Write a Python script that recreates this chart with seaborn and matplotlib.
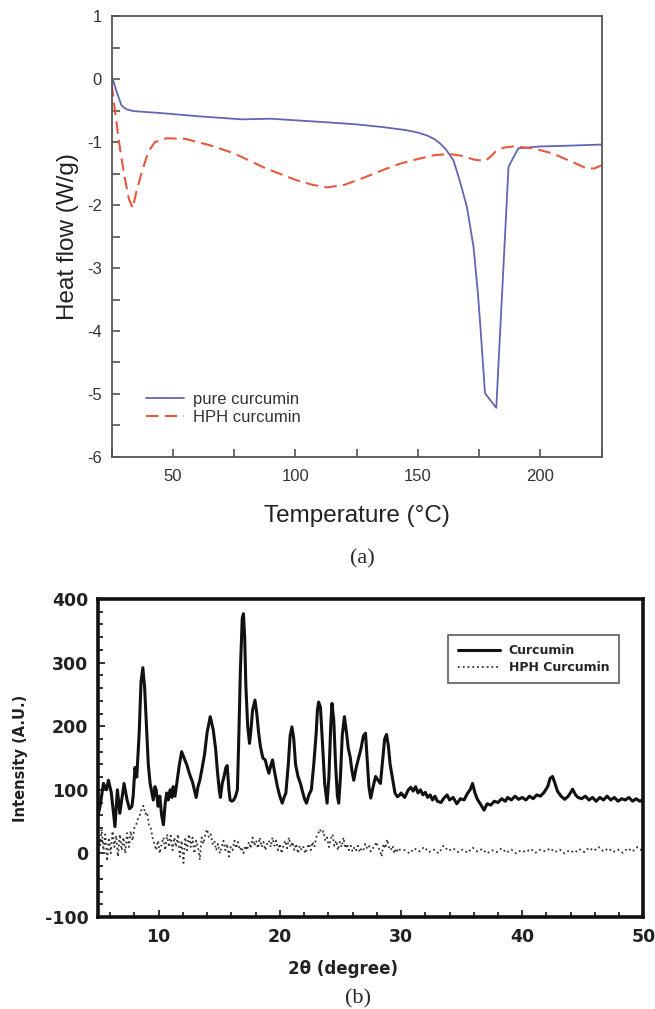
import numpy as np
import seaborn as sns
import matplotlib
matplotlib.use("Agg")
from matplotlib import pyplot as plt
from matplotlib.ticker import MultipleLocator

# (a) DSC curves
pure_T = [25, 27, 29, 31, 34, 45, 60, 78, 90, 102, 114, 125, 135, 145, 150, 154,
          157, 159, 161.5, 164.5, 167, 170, 172.7, 174.5, 175.6, 177.4, 182, 187,
          191, 200, 210, 225]
pure_Q = [0.05, -0.2, -0.42, -0.48, -0.51, -0.54, -0.59, -0.64, -0.63, -0.66, -0.69,
          -0.72, -0.76, -0.81, -0.85, -0.9, -0.96, -1.02, -1.12, -1.29, -1.6, -2.03,
          -2.66, -3.4, -3.98, -4.99, -5.22, -1.39, -1.1, -1.07, -1.06, -1.04]

hph_T = [25, 26, 28, 30, 32, 33.6, 35, 37.5, 40, 42.7, 47.5, 55, 65, 75, 88, 100,
         107, 113, 120, 129, 136, 143, 150, 156.5, 163, 168, 173, 177.5, 180, 182,
         185, 189, 197, 205, 212, 219, 222, 225]
hph_Q = [-0.08, -0.4, -1.0, -1.5, -1.9, -2.05, -1.8, -1.45, -1.15, -1.0, -0.94, -0.95,
         -1.05, -1.18, -1.42, -1.6, -1.68, -1.72, -1.68, -1.55, -1.44, -1.34, -1.27,
         -1.21, -1.19, -1.22, -1.28, -1.3, -1.22, -1.14, -1.09, -1.07, -1.1, -1.18,
         -1.3, -1.42, -1.42, -1.37]

# (b) XRD patterns
cur_2t = [5.0, 5.17, 5.45, 5.7, 5.86, 6.1, 6.4, 6.6, 6.8, 7.15, 7.4, 7.6, 7.8, 7.9,
          8.05, 8.2, 8.4, 8.55, 8.7, 8.85, 9.0, 9.15, 9.3, 9.45, 9.56, 9.7, 9.8, 9.96,
          10.1, 10.25, 10.4, 10.55, 10.67, 10.8, 10.95, 11.1, 11.2, 11.35, 11.5, 11.7,
          11.9, 12.1, 12.35, 12.55, 12.8, 12.95, 13.1, 13.25, 13.4, 13.6, 13.8, 14.0,
          14.26, 14.5, 14.7, 14.85, 15.0, 15.1, 15.25, 15.4, 15.55, 15.66, 15.8, 15.9,
          16.05, 16.2, 16.35, 16.5, 16.6, 16.75, 16.9, 17.0, 17.1, 17.2, 17.35, 17.5,
          17.6, 17.75, 17.95, 18.1, 18.25, 18.4, 18.6, 18.8, 18.95, 19.1, 19.25, 19.4,
          19.55, 19.8, 20.0, 20.2, 20.35, 20.5, 20.7, 20.85, 21.0, 21.15, 21.3, 21.5,
          21.7, 21.9, 22.05, 22.2, 22.4, 22.6, 22.8, 23.0, 23.1, 23.2, 23.35, 23.5,
          23.7, 23.9, 24.05, 24.2, 24.3, 24.45, 24.6, 24.75, 24.86, 25.0, 25.15, 25.33,
          25.5, 25.65, 25.8, 25.95, 26.1, 26.3, 26.5, 26.7, 26.9, 27.07, 27.2, 27.35,
          27.5, 27.7, 27.9, 28.1, 28.3, 28.5, 28.65, 28.8, 28.95, 29.1, 29.27, 29.5,
          29.7, 29.9, 30.0, 30.3, 30.6, 30.8, 31.0, 31.2, 31.4, 31.6, 31.8, 32.0, 32.2,
          32.4, 32.6, 32.8, 33.0, 33.3, 33.5, 33.8, 34.0, 34.3, 34.6, 34.9, 35.2, 35.5,
          35.7, 35.9, 36.1, 36.3, 36.6, 36.85, 37.1, 37.4, 37.7, 38.0, 38.3, 38.6, 38.8,
          39.1, 39.4, 39.7, 40.0, 40.3, 40.6, 40.9, 41.2, 41.5, 41.8, 42.1, 42.3, 42.5,
          42.7, 42.9, 43.2, 43.5, 43.8, 44.0, 44.15, 44.4, 44.6, 44.9, 45.2, 45.5, 45.8,
          46.1, 46.4, 46.7, 47.0, 47.3, 47.6, 47.9, 48.2, 48.5, 48.8, 49.1, 49.4, 49.7,
          50.0]
cur_int = [60, 74, 110, 100, 115, 95, 42, 100, 63, 110, 84, 70, 74, 90,
           135, 120, 190, 270, 292, 260, 199, 140, 110, 95, 84, 105, 100, 74,
           90, 60, 45, 80, 95, 84, 100, 88, 105, 90, 110, 138,
           160, 150, 138, 125, 112, 100, 88, 105, 115, 135, 157, 190,
           215, 195, 165, 130, 100, 88, 110, 121, 135, 138, 100, 84,
           82, 84, 90, 100, 170, 290, 370, 377, 340, 263, 200, 173,
           190, 225, 241, 220, 190, 168, 150, 147, 135, 126, 138, 147,
           130, 105, 90, 79, 88, 95, 140, 185, 199, 180, 140, 121,
           110, 95, 85, 79, 92, 100, 140, 189, 225, 238, 230, 180,
           110, 79, 120, 200, 236, 210, 140, 90, 79, 120, 185, 215,
           190, 165, 152, 130, 115, 135, 150, 165, 185, 189, 150, 105,
           87, 105, 121, 115, 110, 150, 180, 187, 170, 140, 121, 95,
           89, 92, 95, 88, 100, 104, 98, 105, 95, 100, 92, 96, 88,
           92, 84, 90, 82, 80, 86, 92, 84, 88, 78, 86, 84, 95,
           100, 110, 95, 85, 76, 68, 78, 76, 82, 80, 86, 82, 88,
           84, 90, 85, 88, 84, 90, 86, 92, 90, 96, 105, 118, 121,
           110, 98, 90, 85, 90, 96, 101, 92, 88, 86, 90, 84, 88,
           82, 88, 84, 90, 84, 88, 82, 86, 84, 88, 82, 86, 82,
           85]

hph_2t = [5.0, 5.15, 5.3, 5.45, 5.6, 5.75, 5.9, 6.05, 6.2, 6.35, 6.5, 6.65, 6.8,
          6.95, 7.1, 7.25, 7.4, 7.55, 7.7, 7.85, 8.0, 8.15, 8.3, 8.45, 8.6, 8.75,
          8.9, 9.05, 9.2, 9.35, 9.5, 9.65, 9.8, 9.95, 10.1, 10.25, 10.4, 10.55, 10.7,
          10.85, 11.0, 11.15, 11.3, 11.45, 11.6, 11.75, 11.9, 12.05, 12.2, 12.35, 12.5,
          12.65, 12.8, 12.95, 13.1, 13.25, 13.4, 13.55, 13.7, 13.85, 14.0, 14.15, 14.3,
          14.45, 14.6, 14.75, 14.9, 15.05, 15.2, 15.35, 15.5, 15.65, 15.8, 15.95, 16.1,
          16.25, 16.4, 16.55, 16.7, 16.85, 17.0, 17.15, 17.3, 17.45, 17.6, 17.75, 17.9,
          18.05, 18.2, 18.35, 18.5, 18.65, 18.8, 18.95, 19.1, 19.25, 19.4, 19.55, 19.7,
          19.85, 20.0, 20.15, 20.3, 20.45, 20.6, 20.75, 20.9, 21.05, 21.2, 21.35, 21.5,
          21.65, 21.8, 21.95, 22.1, 22.25, 22.4, 22.55, 22.7, 22.85, 23.0, 23.15, 23.3,
          23.45, 23.6, 23.75, 23.9, 24.05, 24.2, 24.35, 24.5, 24.65, 24.8, 24.95, 25.1,
          25.25, 25.4, 25.55, 25.7, 25.85, 26.0, 26.15, 26.3, 26.45, 26.6, 26.75, 26.9,
          27.05, 27.2, 27.35, 27.5, 27.65, 27.8, 27.95, 28.1, 28.25, 28.4, 28.55, 28.7,
          28.85, 29.0, 29.15, 29.3, 29.45, 29.6, 29.75, 29.9, 30.3, 30.7, 31.1, 31.5,
          31.9, 32.3, 32.7, 33.1, 33.5, 33.9, 34.3, 34.7, 35.1, 35.5, 35.9, 36.3, 36.7,
          37.1, 37.5, 37.9, 38.3, 38.7, 39.1, 39.5, 39.9, 40.3, 40.7, 41.1, 41.5, 41.9,
          42.3, 42.7, 43.1, 43.5, 43.9, 44.3, 44.7, 45.1, 45.5, 45.9, 46.3, 46.7, 47.1,
          47.5, 47.9, 48.3, 48.7, 49.1, 49.5, 49.9]
hph_int = [30, 10, 38, 5, 30, -12, 25, 0, 35, 10, 28, -5, 30,
           5, 25, 0, 32, 10, 35, 20, 40, 45, 55, 60, 70, 75,
           62, 65, 45, 40, 25, 15, 5, 20, 0, 15, 25, 5, 30,
           10, 28, 5, 25, 10, 30, -5, 20, -15, 25, 5, 30,
           10, 25, 0, 20, 10, -10, 25, 15, 30, 38, 25, 30,
           15, 20, 5, 15, 0, 10, 20, 5, 15, -5, 10, 5,
           20, 8, 18, 5, 10, 0, 12, 5, 18, 8, 25, 12,
           20, 8, 25, 10, 18, 5, 15, 20, 10, 25, 12, 20,
           5, 15, 0, 12, 20, 8, 25, 10, 18, 5, 15, 0,
           12, 5, 10, 0, 8, 15, 5, 18, 10, 25, 30, 38,
           32, 35, 20, 25, 10, 22, 30, 12, 20, 5, 18, 10,
           25, 8, 15, 5, 12, 3, 10, 5, 12, 2, 8, 5,
           15, 8, 12, 3, 8, 10, 18, 10, 5, -5, 15, 8,
           22, 10, 5, 12, 0, 8, 2, 6, 5, 0, 8, 3,
           10, 2, 6, 0, 12, 4, 8, 2, 6, 1, 9, 3, 7,
           0, 5, 2, 8, 1, 6, 0, 5, 2, 7, 1, 6, 3,
           8, 2, 6, 0, 5, 1, 7, 2, 9, 4, 10, 3, 8,
           2, 6, 1, 8, 3, 10, 4]

sns.set_style("white")
plt.rcParams["font.family"] = ["Liberation Sans", "DejaVu Sans"]
plt.rcParams["axes.unicode_minus"] = False

fig = plt.figure(figsize=(6.55, 10.09), dpi=100)
ax1 = fig.add_axes([0.1705, 0.5471, 0.748, 0.437])
ax2 = fig.add_axes([0.1496, 0.0912, 0.8328, 0.3151])

# ---- panel (a)
sns.lineplot(x=pure_T, y=pure_Q, ax=ax1, color="#6464b4", lw=1.3,
             estimator=None, sort=False, label="pure curcumin")
sns.lineplot(x=hph_T, y=hph_Q, ax=ax1, color="#e8583c", lw=1.5,
             estimator=None, sort=False, label="HPH curcumin")
ax1.lines[1].set_dashes([6, 3])
ax1.set_xlim(25, 225)
ax1.set_ylim(-6, 1)
ax1.xaxis.set_major_locator(MultipleLocator(50))
ax1.xaxis.set_minor_locator(MultipleLocator(25))
ax1.yaxis.set_major_locator(MultipleLocator(1))
ax1.yaxis.set_minor_locator(MultipleLocator(0.5))
ax1.tick_params(which="both", direction="in", length=6, width=1.1, color="#444444",
                labelsize=12, labelcolor="#333333", bottom=True, left=True,
                top=False, right=False)
ax1.tick_params(axis="y", pad=7)
ax1.tick_params(axis="x", pad=9)
for sp in ax1.spines.values():
    sp.set_color("#555555")
    sp.set_linewidth(1.3)
ax1.set_xlabel("Temperature (°C)", fontsize=17.5, color="#222222", labelpad=15)
ax1.set_ylabel("Heat flow (W/g)", fontsize=17.5, color="#222222", labelpad=6)
leg1 = ax1.legend(loc="center left", bbox_to_anchor=(0.07, 0.11), frameon=False,
                  fontsize=12, handlelength=2.3, handletextpad=0.5,
                  labelspacing=0.15, borderaxespad=0, borderpad=0)
for t in leg1.get_texts():
    t.set_color("#333333")
fig.text(362 / 655, 1 - 559 / 1009, "(a)", ha="center", va="center", fontsize=16,
         family="Liberation Serif")

# ---- panel (b)
sns.lineplot(x=cur_2t, y=cur_int, ax=ax2, color="#111111", lw=2.2,
             estimator=None, sort=False, label="Curcumin")
sns.lineplot(x=hph_2t, y=hph_int, ax=ax2, color="#333333", lw=1.3,
             estimator=None, sort=False, label="HPH Curcumin")
ax2.lines[1].set_linestyle(":")
ax2.set_xlim(5, 50)
ax2.set_ylim(-100, 400)
ax2.xaxis.set_major_locator(MultipleLocator(10))
ax2.xaxis.set_minor_locator(MultipleLocator(2))
ax2.yaxis.set_major_locator(MultipleLocator(100))
ax2.yaxis.set_minor_locator(MultipleLocator(20))
ax2.tick_params(which="both", direction="in", width=1.2, color="#111111",
                bottom=True, left=True, top=False, right=False)
ax2.tick_params(which="major", length=5)
ax2.tick_params(which="minor", length=3.5)
ax2.tick_params(axis="x", pad=8)
ax2.tick_params(axis="y", pad=7)
for sp in ax2.spines.values():
    sp.set_color("#111111")
    sp.set_linewidth(2.6)
for lab in ax2.get_xticklabels() + ax2.get_yticklabels():
    lab.set_fontweight("bold")
    lab.set_fontsize(12.5)
    lab.set_family("DejaVu Sans")
    lab.set_color("#222222")
ax2.set_xlabel("2θ (degree)", fontsize=12, fontweight="bold", family="DejaVu Sans",
               color="#222222")
ax2.xaxis.set_label_coords(0.449, -0.135)
ax2.set_ylabel("Intensity (A.U.)", fontsize=10.5, fontweight="bold",
               family="DejaVu Sans", color="#222222")
ax2.yaxis.set_label_coords(-0.128, 0.5)
leg2 = ax2.legend(loc="upper left", bbox_to_anchor=(0.642, 0.887), frameon=True,
                  fancybox=False, prop={"family": "DejaVu Sans", "weight": "bold",
                                        "size": 9},
                  handlelength=3.4, handletextpad=0.7, labelspacing=0.3,
                  borderpad=0.75, borderaxespad=0)
leg2.get_frame().set_edgecolor("#333333")
leg2.get_frame().set_linewidth(1.2)
fig.text(358 / 655, 1 - 999 / 1009, "(b)", ha="center", va="center", fontsize=16,
         family="Liberation Serif")

fig.savefig("out.png", dpi=100)
